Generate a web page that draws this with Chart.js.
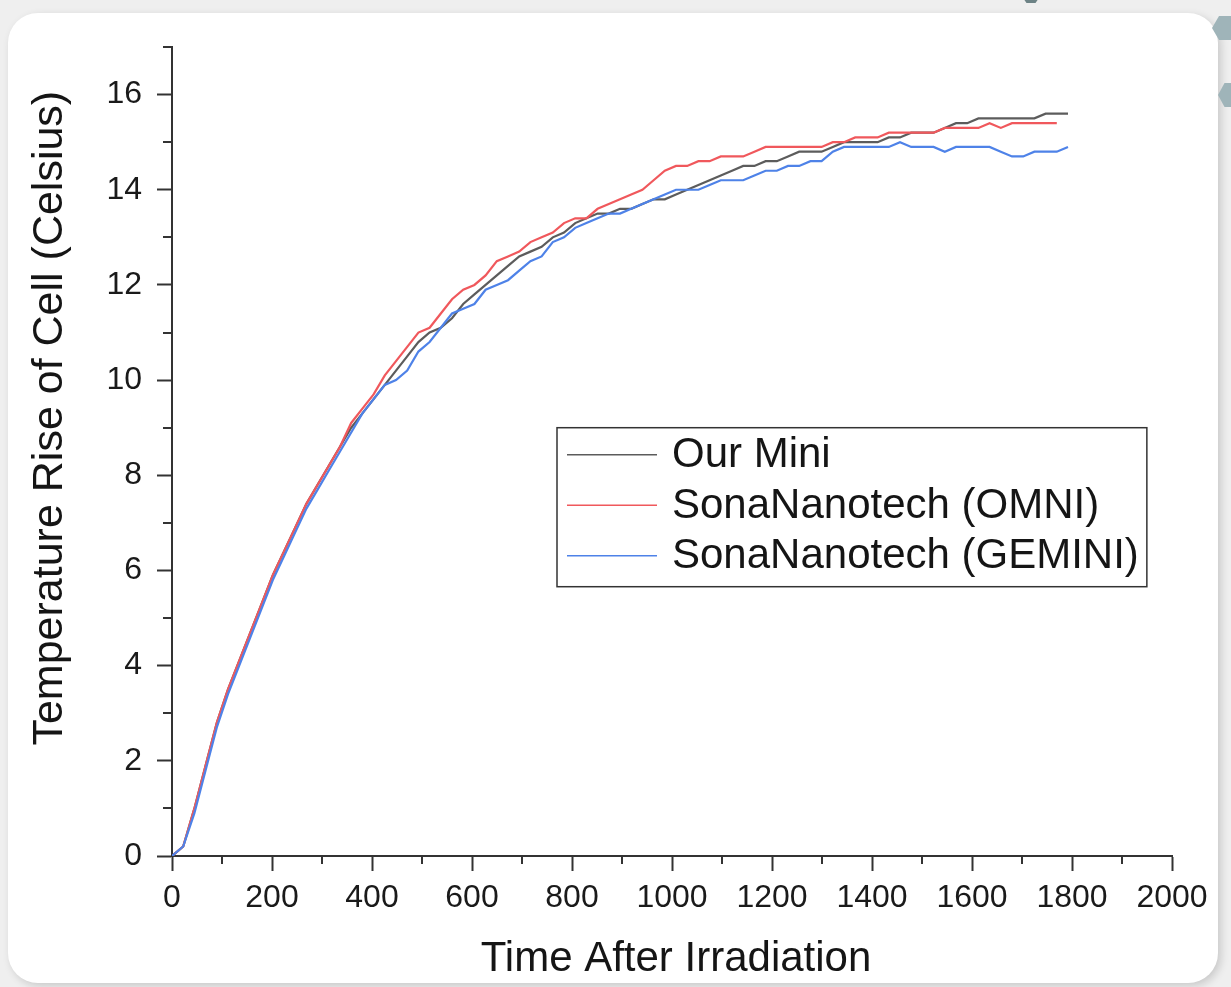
<!DOCTYPE html>
<html>
<head>
<meta charset="utf-8">
<script src="https://cdn.jsdelivr.net/npm/chart.js@4.4.1/dist/chart.umd.min.js"></script>
<style>
html, body { margin:0; padding:0; width:1231px; height:987px; overflow:hidden; background:#efefef; }
.card { position:absolute; left:8px; top:13px; width:1210px; height:970px; background:#fff; border-radius:30px; box-shadow:3px 3px 8px rgba(0,0,0,0.16); }
.hex { position:absolute; background:#9fb4b9; clip-path:polygon(25% 0,75% 0,100% 50%,75% 100%,25% 100%,0 50%); }
#wrap { position:absolute; left:0; top:0; width:1231px; height:987px; }
</style>
</head>
<body>
<div class="card"></div>
<div class="hex" style="left:1212px;top:16px;width:28px;height:24px"></div>
<div class="hex" style="left:1218px;top:83px;width:26px;height:24px"></div>
<div class="hex" style="left:1022px;top:-10px;width:18px;height:13px;background:#6d8386"></div>
<div id="wrap"><canvas id="graf"></canvas></div>
<script>
// tempo (s) de cada leitura
const tempo = [0, 22.4, 44.8, 67.2, 89.6, 112, 134.4, 156.8, 179.2, 201.6,
  224, 246.4, 268.8, 291.2, 313.6, 336, 358.4, 380.8, 403.2, 425.6,
  448, 470.4, 492.8, 515.2, 537.6, 560, 582.4, 604.8, 627.2, 649.6,
  672, 694.4, 716.8, 739.2, 761.6, 784, 806.4, 828.8, 851.2, 873.6,
  896, 918.4, 940.8, 963.2, 985.6, 1008, 1030.4, 1052.8, 1075.2, 1097.6,
  1120, 1142.4, 1164.8, 1187.2, 1209.6, 1232, 1254.4, 1276.8, 1299.2, 1321.6,
  1344, 1366.4, 1388.8, 1411.2, 1433.6, 1456, 1478.4, 1500.8, 1523.2, 1545.6,
  1568, 1590.4, 1612.8, 1635.2, 1657.6, 1680, 1702.4, 1724.8, 1747.2, 1769.6,
  1792]

const nossoMini = [0, 0.2, 1.0, 1.9, 2.8, 3.5, 4.1, 4.7, 5.3, 5.9,
  6.4, 6.9, 7.4, 7.8, 8.2, 8.6, 9.0, 9.3, 9.6, 9.9,
  10.2, 10.5, 10.8, 11.0, 11.1, 11.3, 11.6, 11.8, 12.0, 12.2,
  12.4, 12.6, 12.7, 12.8, 13.0, 13.1, 13.3, 13.4, 13.5, 13.5,
  13.6, 13.6, 13.7, 13.8, 13.8, 13.9, 14.0, 14.1, 14.2, 14.3,
  14.4, 14.5, 14.5, 14.6, 14.6, 14.7, 14.8, 14.8, 14.8, 14.9,
  15.0, 15.0, 15.0, 15.0, 15.1, 15.1, 15.2, 15.2, 15.2, 15.3,
  15.4, 15.4, 15.5, 15.5, 15.5, 15.5, 15.5, 15.5, 15.6, 15.6,
  15.6]

const omni = [0, 0.2, 1.0, 1.9, 2.8, 3.5, 4.1, 4.7, 5.3, 5.9,
  6.4, 6.9, 7.4, 7.8, 8.2, 8.6, 9.1, 9.4, 9.7, 10.1,
  10.4, 10.7, 11.0, 11.1, 11.4, 11.7, 11.9, 12.0, 12.2, 12.5,
  12.6, 12.7, 12.9, 13.0, 13.1, 13.3, 13.4, 13.4, 13.6, 13.7,
  13.8, 13.9, 14.0, 14.2, 14.4, 14.5, 14.5, 14.6, 14.6, 14.7,
  14.7, 14.7, 14.8, 14.9, 14.9, 14.9, 14.9, 14.9, 14.9, 15.0,
  15.0, 15.1, 15.1, 15.1, 15.2, 15.2, 15.2, 15.2, 15.2, 15.3,
  15.3, 15.3, 15.3, 15.4, 15.3, 15.4, 15.4, 15.4, 15.4, 15.4]

const gemini = [0, 0.2, 0.9, 1.8, 2.7, 3.4, 4.0, 4.6, 5.2, 5.8,
  6.3, 6.8, 7.3, 7.7, 8.1, 8.5, 8.9, 9.3, 9.6, 9.9,
  10.0, 10.2, 10.6, 10.8, 11.1, 11.4, 11.5, 11.6, 11.9, 12.0,
  12.1, 12.3, 12.5, 12.6, 12.9, 13.0, 13.2, 13.3, 13.4, 13.5,
  13.5, 13.6, 13.7, 13.8, 13.9, 14.0, 14.0, 14.0, 14.1, 14.2,
  14.2, 14.2, 14.3, 14.4, 14.4, 14.5, 14.5, 14.6, 14.6, 14.8,
  14.9, 14.9, 14.9, 14.9, 14.9, 15.0, 14.9, 14.9, 14.9, 14.8,
  14.9, 14.9, 14.9, 14.9, 14.8, 14.7, 14.7, 14.8, 14.8, 14.8,
  14.9]

const nomes = ['Our Mini', 'SonaNanotech (OMNI)', 'SonaNanotech (GEMINI)']
const cores = ['#5c5c5c', '#f0585c', '#4e82e8']
const xMenores = [100, 300, 500, 700, 900, 1100, 1300, 1500, 1700, 1900]
const yMenores = [1, 3, 5, 7, 9, 11, 13, 15, 17]
const tituloX = 'Time After Irradiation'
const tituloY = 'Temperature Rise of Cell (Celsius)'

const fonte = '"Liberation Sans", Arial, sans-serif'
Chart.defaults.font.family = fonte

const pares = serie => serie.map((v, i) => ({ x: tempo[i], y: v }))

// ticks menores, titulos dos eixos e legenda dentro do grafico
const extras = {
  id: 'extras',
  afterDraw(chart) {
    const { ctx } = chart
    const x = chart.scales.x, y = chart.scales.y
    ctx.save()
    ctx.strokeStyle = '#333'
    ctx.lineWidth = 2
    ctx.beginPath()
    xMenores.forEach(v => {
      const px = x.getPixelForValue(v)
      ctx.moveTo(px, y.bottom)
      ctx.lineTo(px, y.bottom + 8)
    })
    yMenores.forEach(v => {
      const py = Math.round(y.getPixelForValue(v))
      ctx.moveTo(x.left - 9, py)
      ctx.lineTo(x.left, py)
    })
    ctx.stroke()

    ctx.fillStyle = '#151515'
    ctx.font = '42px ' + fonte
    ctx.textAlign = 'center'
    ctx.textBaseline = 'alphabetic'
    ctx.fillText(tituloX, (x.left + x.right) / 2 + 4, y.bottom + 115)
    ctx.save()
    ctx.font = '43px ' + fonte
    ctx.translate(x.left - 110, y.getPixelForValue(9.2))
    ctx.rotate(-Math.PI / 2)
    ctx.fillText(tituloY, 0, 0)
    ctx.restore()

    // legenda
    const lx = x.getPixelForValue(770), ly = y.getPixelForValue(9)
    const larg = Math.max(...nomes.map(n => ctx.measureText(n).width))
    const w = 10 + 90 + 15 + larg + 8, h = 159
    ctx.strokeStyle = '#333'
    ctx.lineWidth = 1.5
    ctx.strokeRect(lx, ly, w, h)
    ctx.textAlign = 'left'
    ctx.textBaseline = 'middle'
    nomes.forEach((n, i) => {
      const cy = ly + 27 + i * 50.5
      ctx.strokeStyle = cores[i]
      ctx.lineWidth = 1.6
      ctx.beginPath()
      ctx.moveTo(lx + 10, cy)
      ctx.lineTo(lx + 100, cy)
      ctx.stroke()
      ctx.fillStyle = '#151515'
      ctx.fillText(n, lx + 115, cy + 1)
    })
    ctx.restore()
  }
}

const eixo = {
  grid: { drawOnChartArea: false, drawTicks: true, tickLength: 15, tickColor: '#333', tickWidth: 2 },
  border: { color: '#333', width: 2 }
}

const graf = document.getElementById('graf')
let myChart = new Chart(graf, {
  type: 'line',
  data: {
    datasets: [
      { label: nomes[0], data: pares(nossoMini), borderColor: cores[0], order: 3 },
      { label: nomes[1], data: pares(omni), borderColor: cores[1], order: 2 },
      { label: nomes[2], data: pares(gemini), borderColor: cores[2], order: 1 }
    ]
  },
  options: {
    responsive: true,
    maintainAspectRatio: false,
    animation: false,
    elements: {
      line: { borderWidth: 2.2, tension: 0, fill: false },
      point: { radius: 0 }
    },
    layout: { padding: { top: 47, right: 59, left: 0, bottom: 0 } },
    plugins: { legend: { display: false }, tooltip: { enabled: false } },
    scales: {
      x: {
        ...eixo,
        type: 'linear',
        min: 0,
        max: 2000,
        ticks: { stepSize: 200, maxRotation: 0, autoSkip: false, padding: 8, color: '#1a1a1a', font: { size: 32 }, callback: v => String(v) },
        afterFit: s => { s.height = 131 }
      },
      y: {
        ...eixo,
        min: 0,
        max: 17,
        ticks: { stepSize: 2, includeBounds: false, padding: 15, color: '#1a1a1a', font: { size: 32 }, callback: v => String(v) },
        afterFit: s => { s.width = 172 }
      }
    }
  },
  plugins: [extras]
})
</script>
</body>
</html>
